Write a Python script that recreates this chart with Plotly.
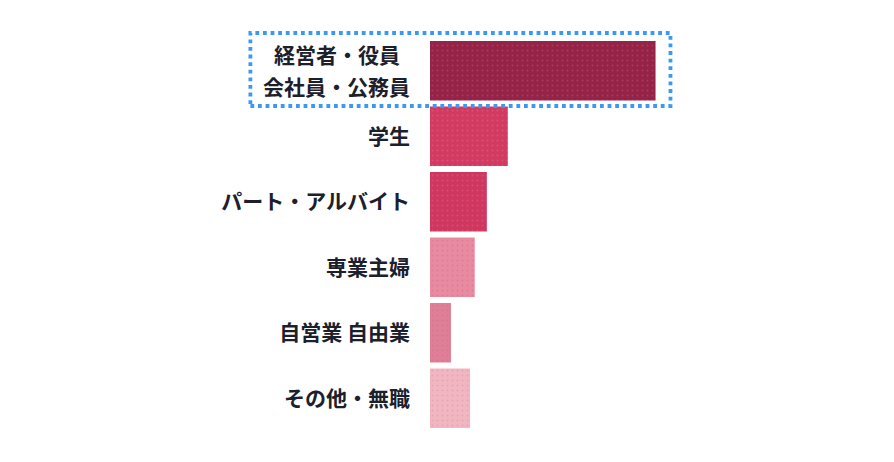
import plotly.graph_objects as go

# 職業別の割合 (%)
categories = ["経営者・役員 会社員・公務員", "学生", "パート・アルバイト", "専業主婦", "自営業 自由業", "その他・無職"]
tick_labels = ["", "学生", "パート・アルバイト", "専業主婦", "自営業 自由業", "その他・無職"]
top_label_lines = ["経営者・役員", "会社員・公務員"]
shares = [48.4, 16.7, 12.2, 9.6, 4.5, 8.6]
bar_colors = ["#962248", "#d23a62", "#cf3660", "#e98aa1", "#e07e98", "#f2b6c2"]

W, H = 894, 462
OFF = 8  # ページ余白の分
L, T = 430 - OFF, 38 - OFF
pw, ph = 233.5, 393
R, B = W - L - pw, H - T - ph

fig = go.Figure(go.Bar(
    y=categories, x=shares, orientation="h",
    marker=dict(color=bar_colors, line=dict(width=0),
                pattern=dict(shape=".", fgcolor="white", fgopacity=0.12, size=5, solidity=0.12)),
    hoverinfo="x+y",
))

# 1段目の2行ラベル (中央揃え)
for line, shift in zip(top_label_lines, [16.5, -15]):
    fig.add_annotation(xref="paper", x=0, xanchor="center", xshift=-93.5,
                       y=categories[0], yshift=shift, text=line, showarrow=False,
                       font=dict(size=21, weight=700, color="#1b202c"))

# 点線の枠 (ピクセル -> paper 座標)
def px2x(p): return (p - OFF - L) / pw
def px2y(p): return (H - B - (p - OFF)) / ph

fig.add_shape(type="rect", xref="paper", yref="paper",
              x0=px2x(250), x1=px2x(671), y0=px2y(106), y1=px2y(33),
              line=dict(color="#3b99f2", width=3.8, dash="dot"))

fig.update_layout(
    width=W, height=H,
    margin=dict(l=L, r=R, t=T, b=B),
    paper_bgcolor="white", plot_bgcolor="white",
    bargap=0.09, showlegend=False,
    font=dict(family="Noto Sans CJK JP", color="#1b202c"),
    xaxis=dict(range=[0, 50], visible=False),
    yaxis=dict(autorange="reversed", showgrid=False, zeroline=False, showline=False,
               ticks="", ticklabelstandoff=19,
               tickmode="array", tickvals=categories, ticktext=tick_labels,
               tickfont=dict(size=21, weight=700, color="#1b202c")),
)

fig.write_html("out.html")
